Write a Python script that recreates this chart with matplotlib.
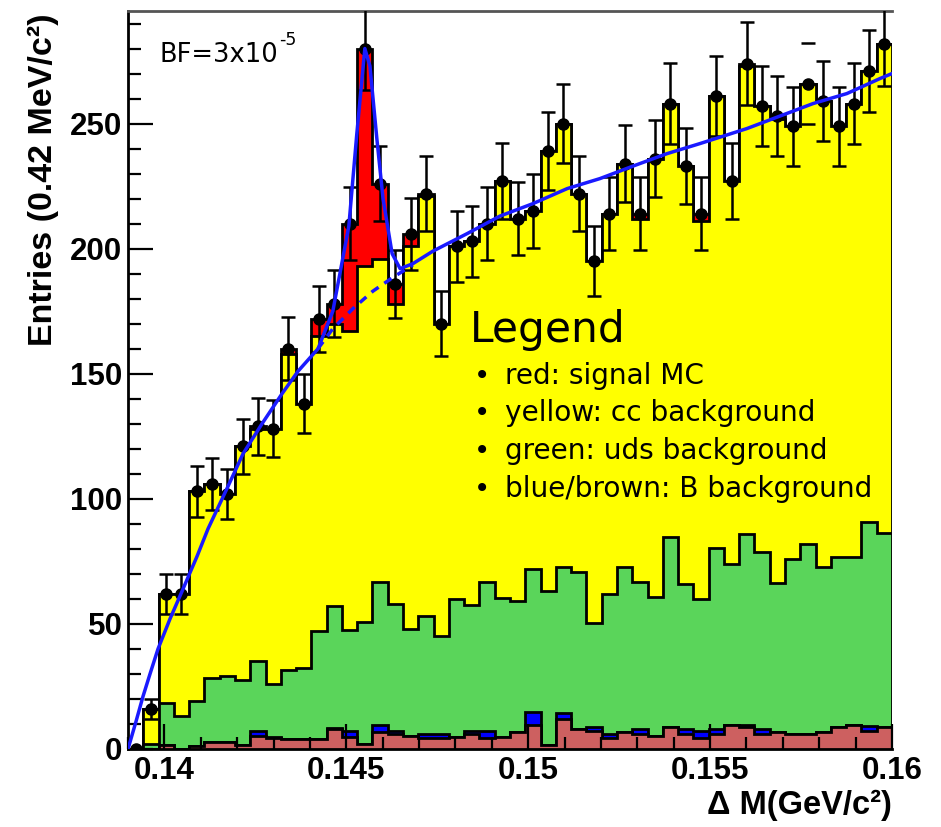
import numpy as np
import matplotlib
matplotlib.use("Agg")
import matplotlib.pyplot as plt
from matplotlib.ticker import MultipleLocator

# ---------------- data ----------------
x_min = 0.139          # GeV, first bin edge
bin_width = 0.00042    # GeV (0.42 MeV)
n_bins = 50

# data points (entries per bin)
data = [0, 16, 62, 62, 103, 106, 102, 121, 129, 128,
        160, 138, 172, 178, 210, 280, 226, 186, 206, 222,
        170, 201, 203, 210, 227, 212, 215, 239, 250, 222,
        195, 214, 234, 214, 236, 258, 233, 214, 261, 227,
        274, 257, 253, 249, 266, 259, 249, 258, 271, 282]

# stacked levels (cumulative tops) of the MC components
# top of yellow (cc) = brown + blue + green + cc ; red signal sits above it up to `data`
cc_top = [0, 16, 62, 62, 103, 106, 102, 121, 128, 128,
          158, 138, 165, 170, 167, 193, 196, 178, 201, 221,
          170, 201, 203, 210, 227, 212, 215, 239, 250, 222,
          195, 214, 234, 212, 236, 258, 233, 211, 261, 227,
          273, 257, 252, 249, 266, 259, 249, 258, 271, 282]

green_top = [0, 2, 18.5, 13, 19, 28.5, 29.2, 27.6, 35, 26,
             31.6, 32.3, 47, 57.3, 47.6, 50.7, 66.7, 57.9, 48, 53.3,
             45.2, 59.9, 57.6, 66.7, 60.5, 59.2, 72, 63.2, 72.9, 70.7,
             50.5, 62, 72.9, 66.9, 60.7, 84.9, 65.9, 60, 80.3, 74,
             85.9, 78.7, 66.3, 76, 81.9, 72.9, 76.7, 76.7, 90.9, 86.3]

blue_top = [0, 0, 1.5, 0, 1.2, 2.7, 2.7, 1.6, 7.3, 4.7,
            3.9, 3.9, 3.9, 8.5, 7.2, 1.8, 9.6, 7.3, 5.2, 5.9,
            5.9, 4.9, 7.3, 7.2, 4.8, 6.9, 14.9, 1.5, 14.3, 7.9,
            8.7, 5.9, 6.9, 7.9, 5.2, 8.7, 7.9, 7.2, 7.9, 9.6,
            9.6, 7.9, 6.9, 6.0, 6.0, 6.9, 8.7, 9.6, 9.3, 8.7]

brown_top = [0, 0, 1.5, 0, 1.2, 2.7, 2.7, 1.6, 5.2, 4.5,
             3.9, 3.9, 3.9, 7.9, 4.7, 1.8, 6.9, 5.9, 5.2, 4.3,
             4.3, 4.9, 6.0, 4.3, 4.8, 6.9, 9.6, 1.5, 11.9, 7.9,
             7.3, 4.3, 6.9, 5.9, 5.2, 8.7, 5.9, 4.3, 5.9, 9.6,
             8.7, 5.9, 6.9, 6.0, 6.0, 6.9, 8.7, 9.6, 7.3, 8.7]

# fitted curve (signal + background)
fit_x = [0.139000, 0.139220, 0.139412, 0.139605, 0.139825, 0.140154, 0.140484,
         0.140897, 0.141199, 0.141749, 0.142161, 0.142683, 0.143233, 0.143673,
         0.144223, 0.144630, 0.145070, 0.145290, 0.145510, 0.145650, 0.145840,
         0.146010, 0.146260, 0.146480, 0.146830, 0.147380, 0.148320, 0.149220,
         0.150130, 0.151070, 0.151970, 0.152880, 0.153820, 0.154720, 0.156010,
         0.156920, 0.157830, 0.158760, 0.159670, 0.160000]
fit_y = [0, 11, 21, 30, 40, 52, 63,
         77, 88, 105, 118, 130, 142, 151,
         160, 175, 209, 246, 280, 273, 244,
         220, 198, 192, 194, 199, 206, 213,
         218, 224, 228, 233, 238, 242, 248,
         253, 258, 262, 268, 270]

# background-only part of the fit under the peak (dashed)
bkg_x = [0.14422, 0.14463, 0.14518, 0.14573, 0.14628, 0.14683]
bkg_y = [160, 168, 176, 183, 188.5, 193.5]

x_ticks = [0.14, 0.145, 0.15, 0.155, 0.16]
x_tick_labels = ["0.14", "0.145", "0.15", "0.155", "0.16"]

legend_title = "Legend"
legend_lines = ["red: signal MC", "yellow: cc background",
                "green: uds background", "blue/brown: B background"]

# ---------------- figure ----------------
W, H = 941, 827
fig = plt.figure(figsize=(W / 100, H / 100), dpi=100)
fig.patch.set_facecolor("white")


def fx(px):
    return px / W


def fy(py):
    return 1 - py / H


ax = fig.add_axes([fx(128), fy(749), (892 - 128) / W, (749 - 11) / H])

edges = x_min + bin_width * np.arange(n_bins + 1)
centers = 0.5 * (edges[:-1] + edges[1:])

c_red = "#ff0000"
c_yellow = "#ffff00"
c_green = "#5ad55a"
c_blue = "#0000ff"
c_brown = "#cd6060"

stack = [(data, c_red), (cc_top, c_yellow), (green_top, c_green),
         (blue_top, c_blue), (brown_top, c_brown)]
z = 1.0
for vals, col in stack:
    ax.stairs(vals, edges, baseline=0, fill=True, facecolor=col,
              edgecolor="none", zorder=z)
    ax.stairs(vals, edges, baseline=0, fill=False, color="black",
              lw=2.0, zorder=z + 0.05)
    z += 0.2

# error bars (one bin in the reference shows only its caps)
d = np.array(data, dtype=float)
caps_only = np.zeros(n_bins, dtype=bool)
caps_only[44] = True
ax.errorbar(centers[~caps_only], d[~caps_only], yerr=np.sqrt(d[~caps_only]),
            fmt="o", color="black", ms=8, capsize=5, elinewidth=1.8,
            capthick=1.8, zorder=6)
ax.errorbar(centers[caps_only], d[caps_only], yerr=np.sqrt(d[caps_only]),
            fmt="o", color="black", ms=8, capsize=5, elinewidth=0,
            capthick=1.8, zorder=6)

# fit curves
ax.plot(bkg_x, bkg_y, color="#1a1aff", lw=2.5, ls=(0, (2.5, 2.0)), zorder=7)
ax.plot(fit_x, fit_y, color="#1a1aff", lw=2.5, zorder=7.1)

# axes styling
ax.set_xlim(x_min, x_min + n_bins * bin_width)
ax.set_ylim(0, 295)
ax.set_axisbelow(False)

ax.set_xticks(x_ticks)
ax.set_xticklabels(x_tick_labels)
ax.xaxis.set_minor_locator(MultipleLocator(0.001))
ax.yaxis.set_major_locator(MultipleLocator(50))
ax.yaxis.set_minor_locator(MultipleLocator(10))

for lab in ax.get_xticklabels() + ax.get_yticklabels():
    lab.set_fontfamily("Liberation Sans")
    lab.set_fontweight("bold")
    lab.set_fontsize(22.5)

ax.tick_params(axis="both", which="major", direction="in", length=18,
               width=1.6, color="black", top=False, right=False)
ax.tick_params(axis="both", which="minor", direction="in", length=9,
               width=1.6, color="black", top=False, right=False)
ax.tick_params(axis="y", which="major", pad=4)
ax.tick_params(axis="x", which="major", pad=5)

for s in ["left", "bottom"]:
    ax.spines[s].set_linewidth(2.0)
    ax.spines[s].set_color("black")
ax.spines["top"].set_linewidth(2.0)
ax.spines["top"].set_color("#555555")
ax.spines["right"].set_visible(False)

# axis titles (ROOT style)
fig.text(fx(43), fy(13), "Entries (0.42 MeV/c²)", rotation=90,
         ha="center", va="top", fontfamily="Liberation Sans",
         fontweight="bold", fontsize=24.5)
fig.text(fx(892), fy(805), "Δ M(GeV/c²)", ha="right", va="center",
         fontfamily="Liberation Sans", fontweight="bold", fontsize=23.5)

# BF annotation
t_bf = fig.text(fx(160), fy(62), "BF=3x10", ha="left", va="baseline",
                fontfamily="DejaVu Sans", fontsize=18.5)
ax.annotate("-5", xy=(1.0, 0.72), xycoords=t_bf, ha="left", va="bottom",
            fontfamily="DejaVu Sans", fontsize=12.5)

# text legend
fig.text(fx(470), fy(342), legend_title, ha="left", va="baseline",
         fontfamily="DejaVu Sans", fontsize=30.5)
base_y = [384, 421, 459, 497]
for yb, line in zip(base_y, legend_lines):
    fig.text(fx(474), fy(yb), "•", ha="left", va="baseline",
             fontfamily="DejaVu Sans", fontsize=20)
    fig.text(fx(505), fy(yb), line, ha="left", va="baseline",
             fontfamily="DejaVu Sans", fontsize=20.2)

fig.savefig("out.png", dpi=100)
